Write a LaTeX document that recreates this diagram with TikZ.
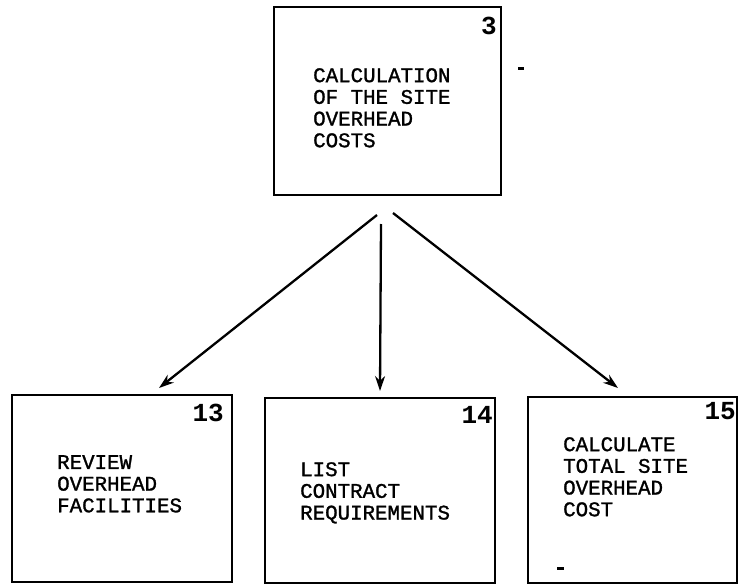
\documentclass[tikz,border=0pt]{standalone}
\usepackage{fontspec}
\setmonofont[FakeBold=1.3]{Liberation Mono}
\newfontfamily\numfont{Liberation Mono Bold}
\usetikzlibrary{arrows.meta}
\begin{document}
\begin{tikzpicture}[x=1pt,y=-1pt,
  box/.style={draw,line width=2.4pt,minimum width=#1,inner sep=0pt},
  label/.style={anchor=north west,inner sep=0pt,align=left,
    font=\ttfamily\fontsize{20.8}{21.7}\selectfont},
  num/.style={anchor=north east,inner sep=0pt,
    font=\numfont\fontsize{26}{26}\selectfont},
  link/.style={line width=2.3pt,-{Stealth[length=15pt,width=10pt]}}]
\useasboundingbox (0,0) rectangle (739,586);

% boxes
\node[box=227pt,minimum height=188pt] (top) at (387.5,101) {};
\node[box=220pt,minimum height=187pt] (b13) at (122,488.5) {};
\node[box=230pt,minimum height=185pt] (b14) at (380,490.5) {};
\node[box=209pt,minimum height=186pt] (b15) at (632.5,490) {};

% box numbers
\node[num] (n3) at (497,17) {3};
\node[num] (n13) at (224,404) {13};
\node[num] (n14) at (493,406) {14};
\node[num] (n15) at (736,402) {15};

% box texts
\node[label] (t3) at (313,68) {CALCULATION\\OF THE SITE\\OVERHEAD\\COSTS};
\node[label] (t13) at (57,455) {REVIEW\\OVERHEAD\\FACILITIES};
\node[label] (t14) at (300,462) {LIST\\CONTRACT\\REQUIREMENTS};
\node[label] (t15) at (563,437) {CALCULATE\\TOTAL SITE\\OVERHEAD\\COST};

% connectors
\coordinate (s1) at (377,215);
\coordinate (s2) at (381,224);
\coordinate (s3) at (393,213);
\coordinate (e1) at (159,388);
\coordinate (e2) at (380,391);
\coordinate (e3) at (618,388);
\draw[link] (s1) -- (e1);
\draw[link] (s2) -- (e2);
\draw[link] (s3) -- (e3);

% small specks
\fill (518,67.5) rectangle (524,70.5);
\fill (557,566.5) rectangle (564,569.5);
\end{tikzpicture}
\end{document}
